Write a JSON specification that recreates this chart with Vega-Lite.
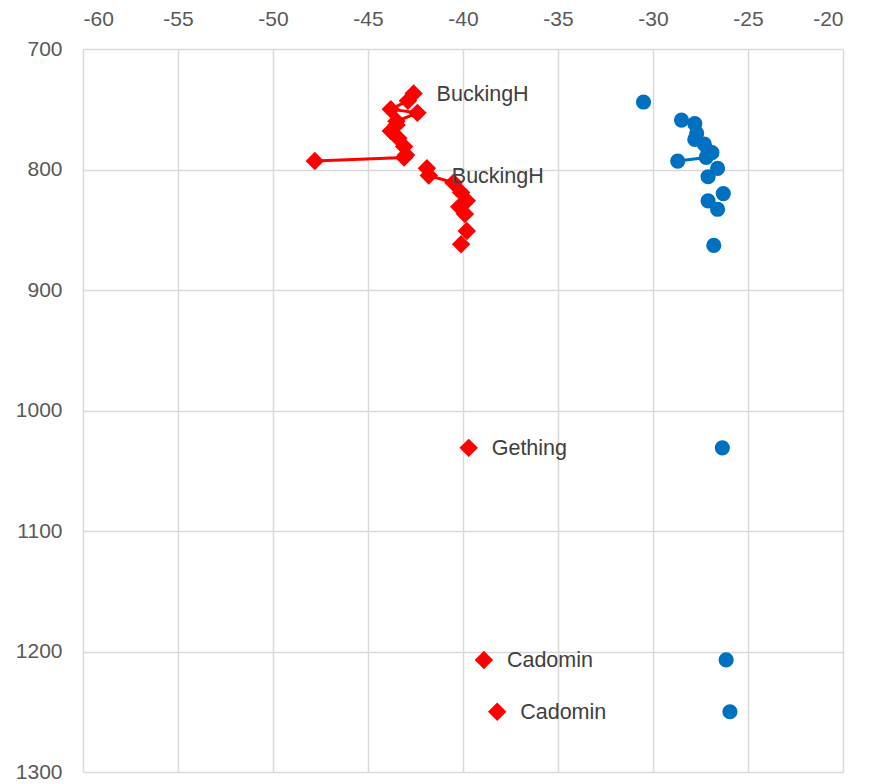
{
  "$schema": "https://vega.github.io/schema/vega-lite/v6.json",
  "autosize": "none",
  "width": 760,
  "height": 723,
  "padding": {"left": 83, "top": 49, "right": 34, "bottom": 12},
  "background": "white",
  "config": {
    "view": {"stroke": null},
    "axis": {
      "grid": true,
      "gridColor": "#D9D9D9",
      "gridWidth": 1.5,
      "domain": false,
      "ticks": false,
      "tickSize": 0,
      "labelFont": "Liberation Sans",
      "labelFontSize": 21,
      "labelColor": "#595959",
      "labelExpr": "'' + datum.value",
      "title": null
    }
  },
  "data": {
    "values": [
      {"s": "A", "x": -42.6, "depth": 737, "seg": "r1", "label": "BuckingH"},
      {"s": "A", "x": -42.9, "depth": 743, "seg": "r1"},
      {"s": "A", "x": -43.8, "depth": 750, "seg": "r1"},
      {"s": "A", "x": -42.4, "depth": 753, "seg": "r1"},
      {"s": "A", "x": -43.5, "depth": 760, "seg": "r1"},
      {"s": "A", "x": -43.5, "depth": 763, "seg": "r1"},
      {"s": "A", "x": -43.8, "depth": 768, "seg": "r1"},
      {"s": "A", "x": -43.4, "depth": 774, "seg": "r1"},
      {"s": "A", "x": -43.1, "depth": 781, "seg": "r1"},
      {"s": "A", "x": -43.0, "depth": 788, "seg": "r1"},
      {"s": "A", "x": -43.1, "depth": 790, "seg": "r1"},
      {"s": "A", "x": -47.8, "depth": 793, "seg": "r1"},
      {"s": "A", "x": -41.9, "depth": 799, "seg": "r2"},
      {"s": "A", "x": -41.8, "depth": 805, "seg": "r2", "label": "BuckingH"},
      {"s": "A", "x": -40.5, "depth": 811, "seg": "r2"},
      {"s": "A", "x": -40.1, "depth": 819},
      {"s": "A", "x": -39.8, "depth": 826},
      {"s": "A", "x": -40.2, "depth": 831},
      {"s": "A", "x": -39.9, "depth": 837},
      {"s": "A", "x": -39.8, "depth": 851},
      {"s": "A", "x": -40.1, "depth": 862},
      {"s": "A", "x": -39.7, "depth": 1031, "label": "Gething"},
      {"s": "A", "x": -38.9, "depth": 1207, "label": "Cadomin"},
      {"s": "A", "x": -38.2, "depth": 1250, "label": "Cadomin"},
      {"s": "B", "x": -30.5, "depth": 744},
      {"s": "B", "x": -28.5, "depth": 759, "seg": "b1"},
      {"s": "B", "x": -27.8, "depth": 762, "seg": "b1"},
      {"s": "B", "x": -27.7, "depth": 770, "seg": "b1"},
      {"s": "B", "x": -27.8, "depth": 775, "seg": "b1"},
      {"s": "B", "x": -27.3, "depth": 779, "seg": "b1"},
      {"s": "B", "x": -27.1, "depth": 785, "seg": "b1"},
      {"s": "B", "x": -26.9, "depth": 786, "seg": "b1"},
      {"s": "B", "x": -27.2, "depth": 790, "seg": "b1"},
      {"s": "B", "x": -28.7, "depth": 793, "seg": "b1"},
      {"s": "B", "x": -26.6, "depth": 799},
      {"s": "B", "x": -27.1, "depth": 806},
      {"s": "B", "x": -26.3, "depth": 820},
      {"s": "B", "x": -27.1, "depth": 826},
      {"s": "B", "x": -26.6, "depth": 833},
      {"s": "B", "x": -26.8, "depth": 863},
      {"s": "B", "x": -26.35, "depth": 1031},
      {"s": "B", "x": -26.15, "depth": 1207},
      {"s": "B", "x": -25.95, "depth": 1250}
    ]
  },
  "encoding": {
    "x": {
      "field": "x",
      "type": "quantitative",
      "scale": {"domain": [-60, -20], "nice": false, "zero": false},
      "axis": {"orient": "top", "values": [-60, -55, -50, -45, -40, -35, -30, -25, -20], "labelPadding": 20}
    },
    "y": {
      "field": "depth",
      "type": "quantitative",
      "scale": {"domain": [700, 1300], "nice": false, "zero": false, "reverse": true},
      "axis": {"values": [700, 800, 900, 1000, 1100, 1200, 1300], "labelPadding": 21}
    },
    "color": {
      "field": "s",
      "type": "nominal",
      "scale": {"domain": ["A", "B"], "range": ["#FF0000", "#0070C0"]},
      "legend": null
    }
  },
  "layer": [
    {
      "transform": [{"filter": "datum.seg != null"}],
      "mark": {"type": "line", "strokeWidth": 3},
      "encoding": {
        "detail": {"field": "seg"},
        "order": {"field": "depth", "type": "quantitative"}
      }
    },
    {
      "mark": {"type": "point", "filled": true, "opacity": 1},
      "encoding": {
        "shape": {
          "field": "s",
          "type": "nominal",
          "scale": {"domain": ["A", "B"], "range": ["diamond", "circle"]},
          "legend": null
        },
        "size": {
          "field": "s",
          "type": "nominal",
          "scale": {"domain": ["A", "B"], "range": [340, 230]},
          "legend": null
        }
      }
    },
    {
      "transform": [{"filter": "datum.label != null"}],
      "mark": {"type": "text", "align": "left", "baseline": "middle", "dx": 23, "dy": 1, "font": "Liberation Sans", "fontSize": 21.5},
      "encoding": {
        "text": {"field": "label"},
        "color": {"value": "#404040"}
      }
    }
  ]
}
